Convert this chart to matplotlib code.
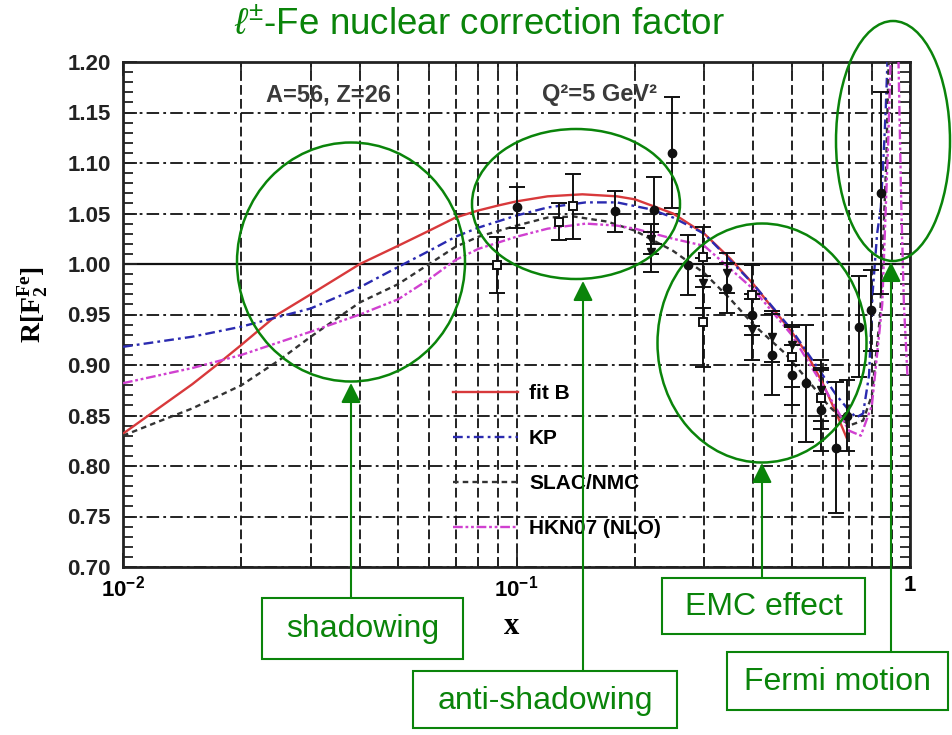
import numpy as np
import matplotlib
matplotlib.use("Agg")
import matplotlib.pyplot as plt
from matplotlib.patches import Ellipse, Rectangle, FancyArrowPatch
from matplotlib.ticker import MultipleLocator, LogLocator, NullFormatter

plt.rcParams["font.family"] = ["Liberation Sans", "DejaVu Sans"]
plt.rcParams["mathtext.fontset"] = "custom"
plt.rcParams["mathtext.rm"] = "Liberation Sans"
plt.rcParams["mathtext.it"] = "Liberation Sans:italic"
plt.rcParams["mathtext.bf"] = "Liberation Serif:bold"
plt.rcParams["mathtext.sf"] = "Liberation Sans:bold"
plt.rcParams["lines.scale_dashes"] = False

# model curves R = F2(Fe)/F2(D) at Q^2 = 5 GeV^2
fitb_x = [0.01, 0.0125, 0.015, 0.0173, 0.02, 0.0247, 0.03, 0.04, 0.05, 0.06, 0.07, 0.08, 0.09,
          0.1, 0.12, 0.147, 0.18, 0.2, 0.25, 0.3, 0.35, 0.4, 0.446, 0.5, 0.545, 0.6, 0.65, 0.69]
fitb_y = [0.832, 0.859, 0.881, 0.900, 0.920, 0.950, 0.970, 1.000, 1.018, 1.033, 1.046, 1.053, 1.058,
          1.062, 1.067, 1.069, 1.067, 1.064, 1.050, 1.030, 1.005, 0.980, 0.957, 0.933, 0.912, 0.882, 0.852, 0.828]

kp_x = [0.01, 0.015, 0.02, 0.03, 0.04, 0.05, 0.06, 0.07, 0.08, 0.1, 0.12, 0.15, 0.18, 0.22, 0.25,
        0.3, 0.4, 0.5, 0.6, 0.65, 0.7, 0.73, 0.76, 0.787, 0.803, 0.825, 0.843, 0.86, 0.868, 0.88]
kp_y = [0.918, 0.928, 0.938, 0.956, 0.977, 0.997, 1.013, 1.027, 1.036, 1.048, 1.056, 1.061, 1.061, 1.054, 1.046,
        1.030, 0.980, 0.935, 0.890, 0.870, 0.855, 0.848, 0.852, 0.890, 0.970, 1.030, 1.056, 1.120, 1.155, 1.220]

slac_x = [0.01, 0.0125, 0.015, 0.02, 0.025, 0.03, 0.04, 0.05, 0.06, 0.07, 0.08, 0.1, 0.12, 0.14, 0.17,
          0.2, 0.25, 0.3, 0.35, 0.4, 0.48, 0.55, 0.62, 0.7, 0.76, 0.8, 0.84, 0.87, 0.885]
slac_y = [0.830, 0.845, 0.857, 0.880, 0.905, 0.928, 0.962, 0.980, 1.000, 1.017, 1.027, 1.038, 1.046, 1.047, 1.042,
          1.033, 1.013, 0.991, 0.965, 0.940, 0.912, 0.885, 0.860, 0.840, 0.845, 0.870, 0.950, 1.100, 1.220]

hkn_x = [0.01, 0.015, 0.02, 0.03, 0.04, 0.05, 0.06, 0.07, 0.08, 0.1, 0.12, 0.15, 0.18, 0.2, 0.25,
         0.3, 0.4, 0.5, 0.6, 0.7, 0.75, 0.8, 0.85, 0.88, 0.9]
hkn_y = [0.882, 0.897, 0.910, 0.933, 0.950, 0.965, 0.985, 1.004, 1.015, 1.027, 1.035, 1.040, 1.038, 1.035, 1.025,
         1.018, 0.975, 0.930, 0.880, 0.835, 0.830, 0.860, 0.960, 1.120, 1.250]
hkn_tail_x = [0.93, 0.935, 0.95, 0.965, 0.985]
hkn_tail_y = [1.25, 1.200, 1.060, 0.960, 0.890]

# measured ratios
sq_x = [0.089, 0.128, 0.139, 0.297, 0.297, 0.397, 0.5, 0.594]
sq_y = [0.999, 1.042, 1.057, 1.007, 0.943, 0.969, 0.908, 0.867]
sq_e = [0.028, 0.018, 0.032, 0.030, 0.045, 0.030, 0.030, 0.030]

circ_x = [0.1, 0.178, 0.223, 0.249, 0.272, 0.343, 0.397, 0.446, 0.5, 0.545, 0.594, 0.649, 0.69, 0.74, 0.796, 0.843]
circ_y = [1.056, 1.052, 1.053, 1.110, 0.999, 0.976, 0.950, 0.910, 0.890, 0.882, 0.855, 0.818, 0.850, 0.938, 0.954, 1.070]
circ_e = [0.020, 0.020, 0.033, 0.055, 0.030, 0.025, 0.020, 0.040, 0.030, 0.058, 0.040, 0.065, 0.035, 0.050, 0.040, 0.100]

tri_x = [0.22, 0.22, 0.297, 0.343, 0.397, 0.446, 0.5, 0.594]
tri_y = [1.025, 1.012, 0.981, 0.991, 0.935, 0.928, 0.920, 0.875]
tri_e = [0.015, 0.020, 0.025, 0.020, 0.030, 0.025, 0.020, 0.030]

W, H = 952, 735
green = "#0a840a"


def fx(px):
    return px / W


def fy(py):
    return 1 - py / H


fig = plt.figure(figsize=(W / 100, H / 100), dpi=100)
ax = fig.add_axes([fx(123), fy(567), (910 - 123) / W, (567 - 62) / H])
ax.set_xscale("log")
ax.set_xlim(0.01, 1)
ax.set_ylim(0.7, 1.2)
ax.set_axisbelow(True)

ax.set_xticks([0.01, 0.1, 1])
ax.set_xticklabels([r"$\mathsf{10^{-2}}$", r"$\mathsf{10^{-1}}$", r"$\mathsf{1}$"], fontsize=16)
ax.xaxis.set_minor_locator(LogLocator(base=10, subs=np.arange(2, 10)))
ax.xaxis.set_minor_formatter(NullFormatter())
yt = np.round(np.arange(0.70, 1.2001, 0.05), 2)
ax.set_yticks(yt)
ax.set_yticklabels([f"{v:.2f}" for v in yt], fontsize=16, fontweight="bold", color="#222")
ax.yaxis.set_minor_locator(MultipleLocator(0.01))
ax.tick_params(which="both", direction="in", top=True, right=True, width=1.3, color="#222")
ax.tick_params(which="major", length=10)
ax.tick_params(which="minor", length=7)
ax.tick_params(axis="x", pad=6)
ax.tick_params(axis="y", pad=9)
for s in ax.spines.values():
    s.set_linewidth(2)
    s.set_color("#222")

ax.xaxis.grid(True, which="both", color="#111", linestyle=(0, (7, 3)), linewidth=1.3)
ax.yaxis.grid(True, which="major", color="#111", linestyle=(0, (9, 3, 2, 3)), linewidth=1.3)
ax.axhline(1.0, color="#111", linewidth=1.6, zorder=0.5)

ax.plot(fitb_x, fitb_y, color="#d8393b", lw=1.7, label="fit B", zorder=3)
ax.plot(kp_x, kp_y, color="#2a2ab0", lw=1.7, linestyle=(0, (7, 3, 2, 3)), label="KP", zorder=3)
ax.plot(slac_x, slac_y, color="#333333", lw=1.7, linestyle=(0, (4, 3)), label="SLAC/NMC", zorder=3)
ax.plot(hkn_x, hkn_y, color="#d040d0", lw=1.7, linestyle=(0, (7, 2, 2, 2, 2, 2)), label="HKN07 (NLO)", zorder=3)
ax.plot(hkn_tail_x, hkn_tail_y, color="#d040d0", lw=1.7, linestyle=(0, (7, 2, 2, 2, 2, 2)), zorder=3)

eb = dict(ls="none", ecolor="#111", elinewidth=1.4, capsize=6, capthick=1.4, zorder=4)
ax.errorbar(sq_x, sq_y, yerr=sq_e, marker="s", ms=6, mfc="white", mec="#111", mew=1.4, **eb)
ax.errorbar(circ_x, circ_y, yerr=circ_e, marker="o", ms=6, mfc="#111", mec="#111", **eb)
ax.errorbar(tri_x, tri_y, yerr=tri_e, marker="v", ms=6, mfc="#111", mec="#111", **eb)

ax.legend(loc="upper left", bbox_to_anchor=(fx(453), fy(384)), bbox_transform=fig.transFigure,
          frameon=False, prop={"weight": "bold", "size": 15}, handlelength=3.1, handletextpad=0.55,
          labelspacing=1.25, borderpad=0, borderaxespad=0)

fig.text(fx(329), fy(95), "A=56, Z=26", fontsize=17, fontweight="bold", color="#3a3a3a", ha="center", va="center")
fig.text(fx(600), fy(95), "Q²=5 GeV²", fontsize=17, fontweight="bold", color="#3a3a3a", ha="center", va="center")

fig.text(fx(33), fy(305), r"$\mathbf{R[F_2^{Fe}]}$", rotation=90, fontsize=20, ha="center", va="center")
fig.text(fx(512), fy(627), "x", fontfamily="Liberation Serif", fontweight="bold", fontsize=22,
         ha="center", va="center")

fig.text(fx(479), fy(25), r"$\ell^{\pm}$-Fe nuclear correction factor", fontsize=26.5, color=green,
         ha="center", va="center")

# highlighted regions and their callouts
regions = [
    ("shadowing", (351, 262, 228, 239), (262, 598, 463, 659), (351, 598, 383)),
    ("anti-shadowing", (576, 204, 208, 150), (413, 671, 677, 728), (583, 671, 281)),
    ("EMC effect", (762, 343, 209, 239), (662, 578, 865, 634), (762, 578, 463)),
    ("Fermi motion", (893, 141, 114, 240), (727, 652, 948, 710), (891, 652, 262)),
]
for name, (cx, cy, w, h), (x0, y0, x1, y1), (ax_x, a_from, a_to) in regions:
    fig.add_artist(Ellipse((fx(cx), fy(cy)), w / W, h / H, transform=fig.transFigure,
                           fill=False, ec=green, lw=1.8, zorder=5))
    fig.add_artist(Rectangle((fx(x0), fy(y1)), (x1 - x0) / W, (y1 - y0) / H, transform=fig.transFigure,
                             fill=False, ec=green, lw=1.5, zorder=5))
    fig.add_artist(FancyArrowPatch((fx(ax_x), fy(a_from)), (fx(ax_x), fy(a_to)), transform=fig.transFigure,
                                   arrowstyle="-|>,head_length=0.6,head_width=0.3", mutation_scale=20,
                                   color=green, lw=1.5, shrinkA=0, shrinkB=0, zorder=5))
    fig.text(fx((x0 + x1) / 2), fy((y0 + y1) / 2 + 1), name, fontsize=23, color=green,
             ha="center", va="center")

fig.savefig("out.png", dpi=100)
